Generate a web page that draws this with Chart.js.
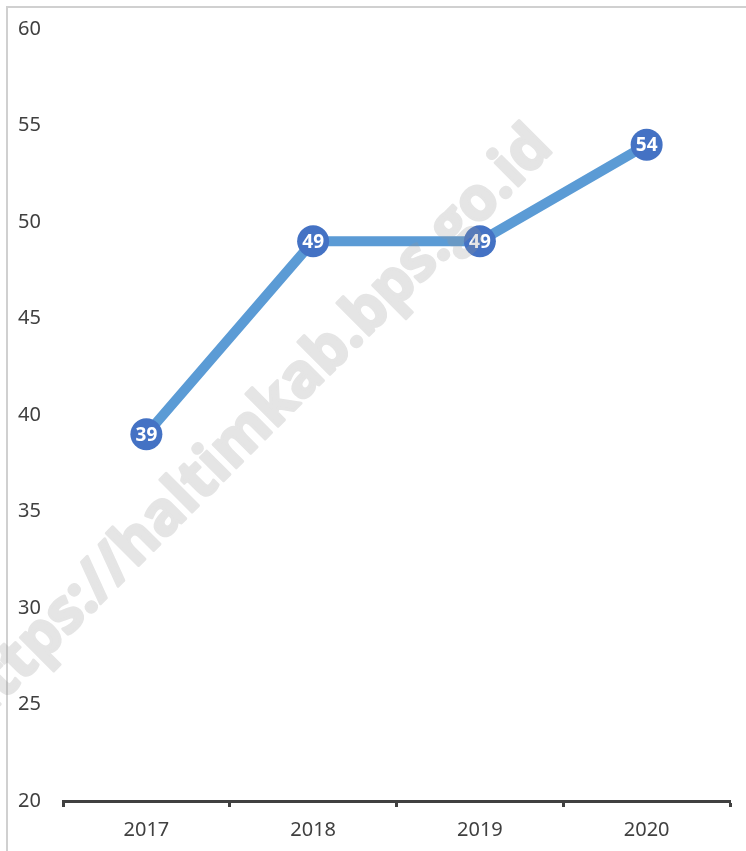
<!DOCTYPE html>
<html>
<head>
<meta charset="utf-8">
<style>
  html, body { margin: 0; padding: 0; background: #fff; }
  #wrap { width: 746px; height: 851px; position: relative; }
</style>
<script src="https://cdn.jsdelivr.net/npm/chart.js"></script>
</head>
<body>
<div id="wrap"><canvas id="chart" width="746" height="851"></canvas></div>
<script>
const years = ["2017", "2018", "2019", "2020"];
const values = [39, 49, 49, 54];
const yMin = 20;
const yMax = 60;
const yStep = 5;
const watermarkText = "https://haltimkab.bps.go.id";

// frame, point labels and the watermark
const decor = {
  id: "decor",
  beforeDraw(chart) {
    const ctx = chart.ctx;
    ctx.save();
    ctx.strokeStyle = "#d0d0d0";
    ctx.lineWidth = 2;
    ctx.beginPath();
    ctx.moveTo(7, 900);
    ctx.lineTo(7, 7);
    ctx.lineTo(800, 7);
    ctx.stroke();
    ctx.restore();
  },
  afterDatasetsDraw(chart) {
    const ctx = chart.ctx;
    const meta = chart.getDatasetMeta(0);
    ctx.save();
    ctx.fillStyle = "#ffffff";
    ctx.font = "bold 19px 'Open Sans', sans-serif";
    ctx.textAlign = "center";
    ctx.textBaseline = "middle";
    meta.data.forEach((pt, i) => {
      ctx.fillText(String(values[i]), pt.x, pt.y + 1);
    });
    ctx.restore();
  },
  afterDraw(chart) {
    // draw opaque text on a scratch canvas, then lay it over at low alpha
    const w = chart.width, h = chart.height;
    const off = document.createElement("canvas");
    off.width = w;
    off.height = h;
    const o = off.getContext("2d");
    o.translate(253, 427);
    o.rotate(-45 * Math.PI / 180);
    o.fillStyle = "#969696";
    o.strokeStyle = "#969696";
    o.lineWidth = 3;
    o.lineJoin = "round";
    o.font = "bold 60px 'Open Sans', sans-serif";
    o.textAlign = "center";
    o.textBaseline = "middle";
    o.fillText(watermarkText, 0, 0);
    o.strokeText(watermarkText, 0, 0);
    const ctx = chart.ctx;
    ctx.save();
    ctx.globalAlpha = 0.25;
    ctx.drawImage(off, 0, 0);
    ctx.restore();
  }
};

new Chart(document.getElementById("chart"), {
  type: "line",
  data: {
    labels: years,
    datasets: [{
      data: values,
      borderColor: "#5b9bd5",
      borderWidth: 10,
      pointRadius: 16,
      pointHoverRadius: 16,
      pointBackgroundColor: "#4472c4",
      pointBorderColor: "#4472c4",
      pointBorderWidth: 0,
      tension: 0
    }]
  },
  options: {
    responsive: false,
    animation: false,
    layout: { padding: { left: 18, right: 15, top: 29, bottom: 0 } },
    plugins: {
      legend: { display: false },
      tooltip: { enabled: false }
    },
    scales: {
      x: {
        offset: true,
        grid: {
          offset: true,
          drawOnChartArea: false,
          drawTicks: true,
          tickLength: 6,
          tickWidth: 3,
          color: "#404040"
        },
        border: { display: true, color: "#404040", width: 3 },
        ticks: {
          color: "#404040",
          font: { family: "'Noto Sans', sans-serif", size: 20 },
          padding: 11
        },
        afterFit(scale) { scale.height = 50; }
      },
      y: {
        min: yMin,
        max: yMax,
        grid: { display: false },
        border: { display: false },
        ticks: {
          stepSize: yStep,
          crossAlign: "far",
          color: "#404040",
          font: { family: "'Noto Sans', sans-serif", size: 20 }
        },
        afterFit(scale) { scale.width = 45; }
      }
    }
  },
  plugins: [decor]
});
</script>
</body>
</html>
